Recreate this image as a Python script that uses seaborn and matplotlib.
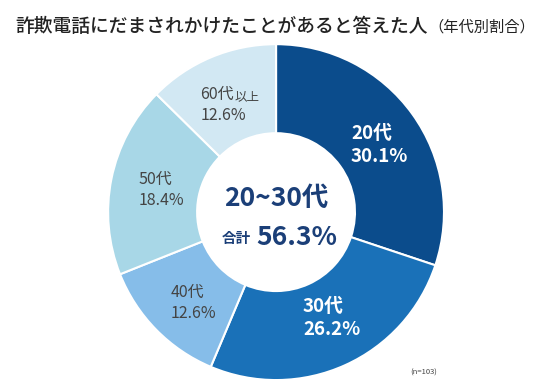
import matplotlib
matplotlib.use("Agg")
import matplotlib.pyplot as plt
import seaborn as sns

# data
ages = ["20代", "30代", "40代", "50代", "60代"]
shares = [30.1, 26.2, 12.6, 18.4, 12.6]
pct_labels = ["30.1%", "26.2%", "12.6%", "18.4%", "12.6%"]
colors = ["#0b4c8c", "#1a71b8", "#86bde9", "#a8d7e7", "#d2e8f3"]
total_label = "56.3%"

sns.set_theme(style="white")
plt.rcParams["font.family"] = ["Noto Sans CJK JP", "DejaVu Sans"]

fig = plt.figure(figsize=(5.51, 3.91), dpi=100)
ax = fig.add_axes([0.196, 0.028, 0.610, 0.859])

ax.pie(shares, colors=sns.color_palette(colors), startangle=90, counterclock=False,
       radius=1.0, wedgeprops=dict(width=0.53, edgecolor="white", linewidth=1.5))
ax.set_xlim(-1, 1)
ax.set_ylim(-1, 1)
ax.set_aspect("equal")

# label positions (data coords, left edge / vertical centre)
pos = [(0.446, 0.40), (0.16, -0.63), (-0.63, -0.54), (-0.82, 0.13), (-0.45, 0.64)]
gray = "#444444"
for i, (age, p) in enumerate(zip(ages, pct_labels)):
    x, y = pos[i]
    if i < 2:
        ax.text(x, y, f"{age}\n{p}", ha="left", va="center", color="white",
                fontsize=13.5, fontweight="bold", linespacing=1.25)
    elif i < 4:
        ax.text(x, y, f"{age}\n{p}", ha="left", va="center", color=gray,
                fontsize=11.5, linespacing=1.3)
    else:
        # 60代 with a smaller "以上" after it
        t60 = ax.text(x, y + 0.062, age, ha="left", va="center", color=gray,
                      fontsize=11.5)
        ax.text(x, y - 0.062, p, ha="left", va="center", color=gray, fontsize=11.5)
        ax.annotate("以上", xy=(1, 0), xycoords=t60, xytext=(0.5, -0.5),
                    textcoords="offset points", ha="left", va="bottom",
                    color=gray, fontsize=9)

# centre text
navy = "#1b3f78"
ax.text(0, 0.08, "20~30代", ha="center", va="center", color=navy,
        fontsize=19, fontweight="bold")
ax.text(-0.15, -0.155, "合計", ha="right", va="center", color=navy,
        fontsize=10.5, fontweight="bold")
ax.text(-0.12, -0.15, total_label, ha="left", va="center", color=navy,
        fontsize=19, fontweight="bold")

fig.text(15 / 551, 1 - 26 / 391, "詐欺電話にだまされかけたことがあると答えた人",
         ha="left", va="center", fontsize=13.5, fontweight="medium", color="#222222")
fig.text(428 / 551, 1 - 27 / 391, "（年代別割合）", ha="left", va="center",
         fontsize=11, color="#222222")
fig.text(410 / 551, 1 - 373 / 391, "(n=103)", ha="left", va="center",
         fontsize=5.5, color=gray)

fig.savefig("out.png", dpi=100, facecolor="white")
